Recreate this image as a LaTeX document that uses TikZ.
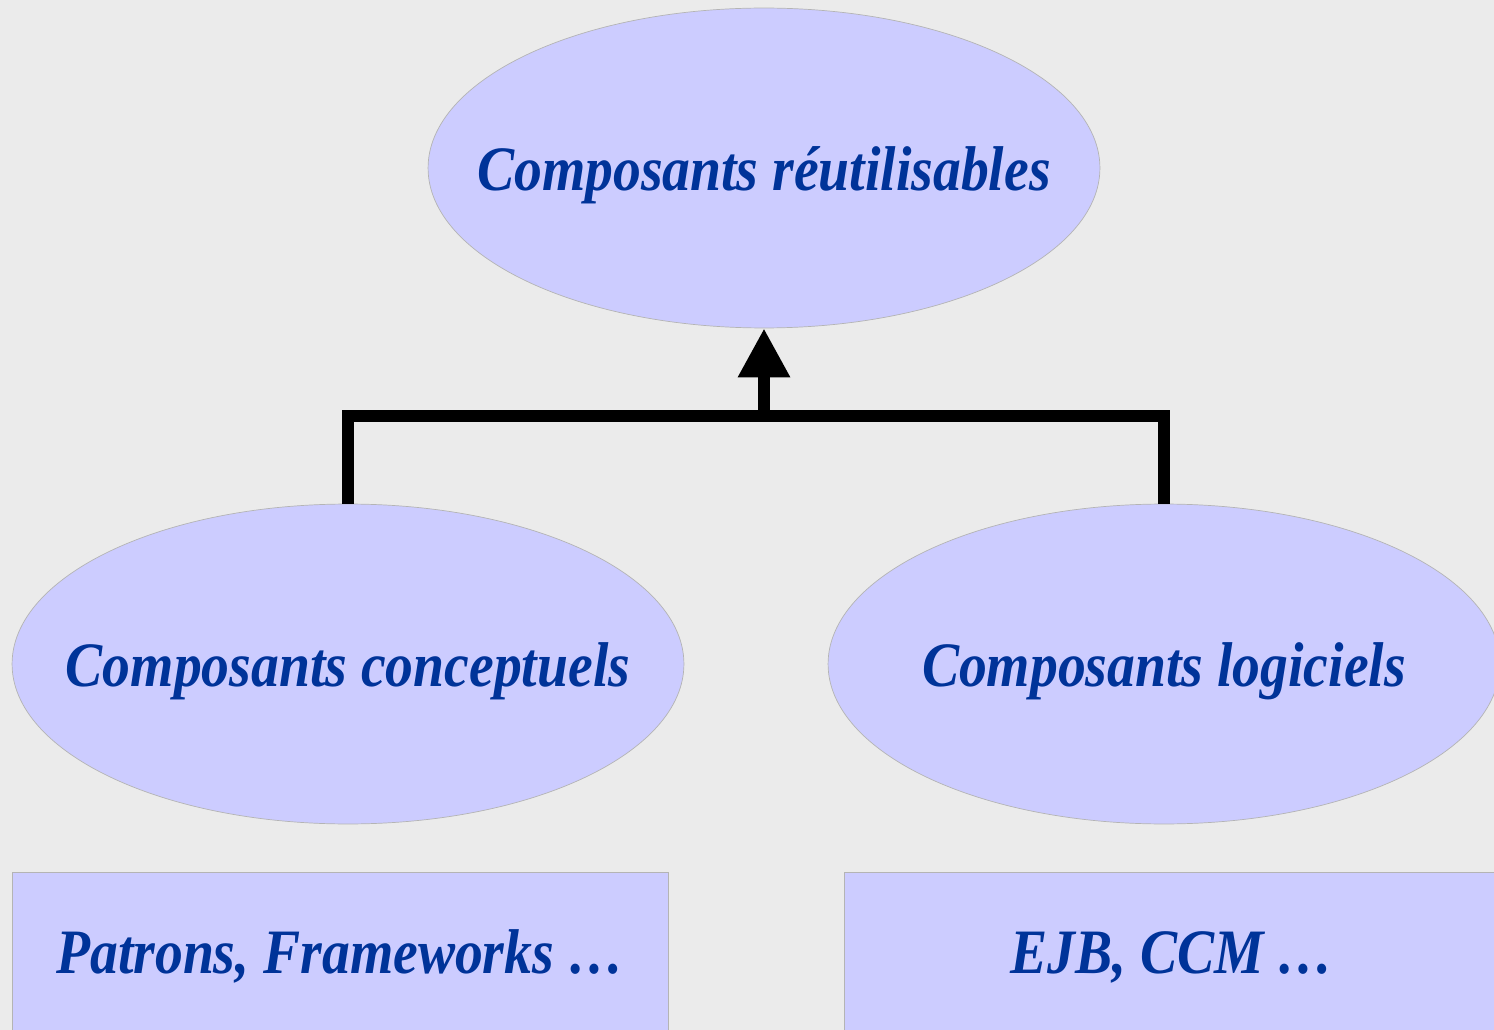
\documentclass[tikz,border=0pt]{standalone}
\usepackage{fontspec}
\setmainfont{Liberation Serif}
\newfontfamily\etroite[FakeStretch=0.88]{Liberation Serif}
\usetikzlibrary{shapes.geometric,arrows.meta}
\definecolor{fond}{HTML}{EBEBEB}
\definecolor{lilas}{HTML}{CCCCFF}
\definecolor{bord}{HTML}{B4B4B4}
\definecolor{encre}{HTML}{003399}
\newcommand{\libelle}[1]{\makebox[0pt]{#1}}
\tikzset{
	comp/.style={ellipse,draw=bord,fill=lilas,inner sep=0pt,text height=0.9cm,text depth=0cm,minimum width=13.44cm,minimum height=6.4cm,text=encre,font=\etroite\fontsize{36}{40}\selectfont\bfseries\itshape},
	exemple/.style={rectangle,draw=bord,fill=lilas,inner sep=0pt,text height=0.9cm,text depth=0.46cm,minimum width=13.12cm,minimum height=3.6cm,text=encre,font=\etroite\fontsize{36}{40}\selectfont\bfseries\itshape},
	lien/.style={line width=0.24cm}
}
\begin{document}
\begin{tikzpicture}[x=0.02cm,y=-0.02cm]
		\useasboundingbox (0,0) rectangle (1494,1030);
		\clip (0,0) rectangle (1494,1030);
		\fill[fond] (0,0) rectangle (1494,1030);
		\node[comp] (reut) at (764,168) {\libelle{Composants réutilisables}};
		\node[comp] (concept) at (348,664) {\libelle{Composants conceptuels}};
		\node[comp] (logic) at (1164,664) {\libelle{Composants logiciels}};
		\node[exemple] (patrons) at (340,962) {\libelle{Patrons, Frameworks …}};
		\node[exemple] (ejb) at (1172,962) {\libelle{EJB, CCM …}};
		\coordinate (jonction) at (764,416);
		\draw[lien] (concept.north) |- (jonction);
		\draw[lien] (logic.north) |- (jonction);
		\draw[lien,-{Triangle[length=0.98cm,width=0.98cm]}] (jonction) -- (reut.south);
		\end{tikzpicture}
\end{document}
